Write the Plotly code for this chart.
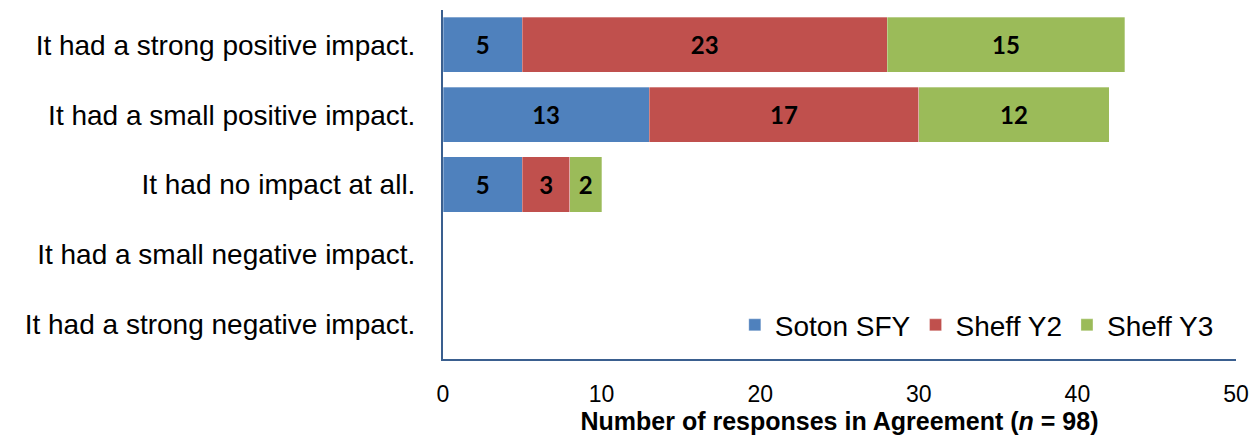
import plotly.graph_objects as go

categories = ["It had a strong positive impact.", "It had a small positive impact.",
              "It had no impact at all.", "It had a small negative impact.",
              "It had a strong negative impact."]
soton_sfy = [5, 13, 5, 0, 0]
sheff_y2 = [23, 17, 3, 0, 0]
sheff_y3 = [15, 12, 2, 0, 0]
series = [("Soton SFY", soton_sfy, "#4F81BD"),
          ("Sheff Y2", sheff_y2, "#C0504D"),
          ("Sheff Y3", sheff_y3, "#9BBB59")]
x_ticks = [0, 10, 20, 30, 40, 50]

fig = go.Figure()
for name, vals, col in series:
    fig.add_trace(go.Bar(
        y=categories, x=vals, name=name, orientation="h",
        marker=dict(color=col, line=dict(color="rgba(255,255,255,0.6)", width=0.5)),
        text=[str(v) if v else "" for v in vals], textposition="inside",
        insidetextanchor="middle",
        textfont=dict(family="Lato", size=24, color="black", weight="bold"),
    ))

fig.update_layout(
    barmode="stack", bargap=0.21,
    width=1251, height=438,
    margin=dict(l=443, r=15, t=10, b=79),
    paper_bgcolor="white", plot_bgcolor="white",
    font=dict(family="Liberation Sans", color="black"),
    showlegend=True,
    legend=dict(orientation="h", x=0.368, y=0.097, xanchor="left", yanchor="middle",
                font=dict(size=28, family="Liberation Sans"), bgcolor="rgba(0,0,0,0)",
                traceorder="normal", itemwidth=30),
    uniformtext=dict(mode="show", minsize=10),
)
fig.update_xaxes(range=[0, 50], tickvals=x_ticks, showgrid=False, zeroline=False,
                 showline=True, linecolor="#3A5F8F", linewidth=2, automargin=False,
                 tickfont=dict(size=23), ticklabelstandoff=13,
                 title=dict(text="<b>Number of responses in Agreement (<i>n</i> = 98)</b>",
                            font=dict(size=25), standoff=2))
fig.update_yaxes(autorange="reversed", showgrid=False, showline=True, automargin=False,
                 linecolor="#3A5F8F", linewidth=2, tickfont=dict(size=28),
                 ticklabelstandoff=20)

fig.write_html("out.html", post_script="document.body.style.margin='0';",
               config={"displayModeBar": False})
